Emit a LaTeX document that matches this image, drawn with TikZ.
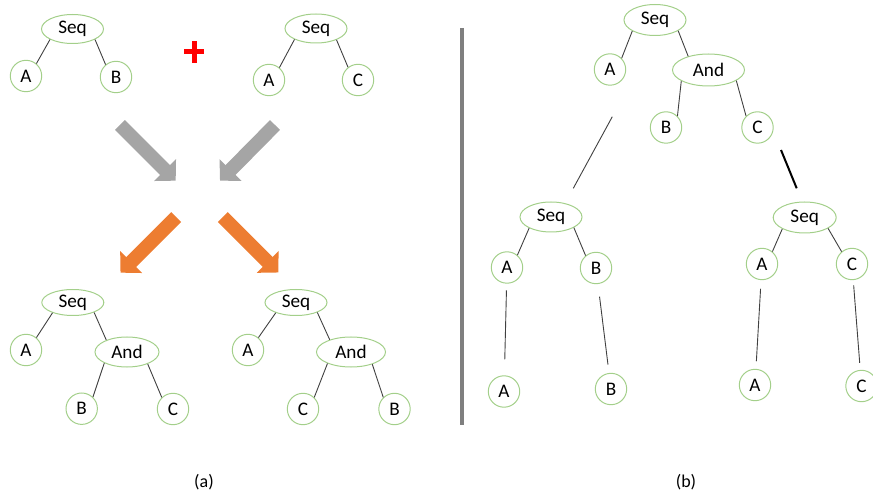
\documentclass[tikz,border=0pt]{standalone}
\usepackage{fontspec}
\setmainfont{Carlito}
\usetikzlibrary{arrows.meta,shapes.geometric}
\definecolor{tgreen}{HTML}{A3CF8A}
\definecolor{edgegray}{HTML}{404040}
\definecolor{arrowgray}{HTML}{A5A5A5}
\definecolor{arroworange}{HTML}{ED7D31}
\definecolor{divgray}{HTML}{7F7F7F}
\tikzset{
  leaf/.style={circle, draw=tgreen, line width=0.5pt, minimum size=15.7pt, inner sep=0pt, font=\fontsize{9.6}{10}\selectfont},
  op/.style={ellipse, draw=tgreen, line width=0.5pt, minimum width=31pt, minimum height=14.5pt, inner sep=0pt, font=\fontsize{9.6}{10}\selectfont},
  tedge/.style={draw=edgegray, line width=0.45pt},
  bigarrow/.style={line width=7pt, -{Triangle[width=15pt,length=7.5pt]}},
  caption/.style={font=\fontsize{9}{10}\selectfont}
}
\begin{document}
\begin{tikzpicture}[x=0.5pt, y=-0.5pt]
\useasboundingbox (0,0) rectangle (873,497);
% ---------- panel (a): inputs ----------
\node[op] (s1) at (72.5,29) {Seq};
\node[leaf] (a1) at (26,76) {A};
\node[leaf] (b1) at (116,77) {B};
\draw[tedge] (s1.205) -- (a1.50);
\draw[tedge] (s1.335) -- (b1.130);

\node[op] (s2) at (316,28.5) {Seq};
\node[leaf] (a2) at (269,80) {A};
\node[leaf] (c2) at (358,80) {C};
\draw[tedge] (s2.207) -- (a2.50);
\draw[tedge] (s2.331) -- (c2.128);

% red plus
\fill[red] (184,49.3) rectangle (204,54.3);
\fill[red] (191.5,41) rectangle (196.5,63);

% big arrows
\coordinate (g1s) at (120,125);
\coordinate (g1e) at (175.7,180.7);
\coordinate (g2s) at (275,125);
\coordinate (g2e) at (220,180.7);
\coordinate (o1s) at (176.2,217);
\coordinate (o1e) at (120.5,272.7);
\coordinate (o2s) at (222.8,217);
\coordinate (o2e) at (278.3,272.5);
\draw[bigarrow, draw=arrowgray, fill=arrowgray] (g1s) -- (g1e);
\draw[bigarrow, draw=arrowgray, fill=arrowgray] (g2s) -- (g2e);
\draw[bigarrow, draw=arroworange, fill=arroworange] (o1s) -- (o1e);
\draw[bigarrow, draw=arroworange, fill=arroworange] (o2s) -- (o2e);

% ---------- panel (a): outputs ----------
\node[op, minimum height=13pt] (s3) at (72.8,302.5) {Seq};
\node[leaf] (a3) at (26,350) {A};
\node[op, minimum width=32pt, minimum height=15pt] (n3) at (127,352) {And};
\node[leaf] (b3) at (81.7,408.7) {B};
\node[leaf] (c3) at (173,409) {C};
\draw[tedge] (s3.207) -- (a3.50);
\draw[tedge] (s3.335) -- (n3.150);
\draw[tedge] (n3.206) -- (b3.46);
\draw[tedge] (n3.330) -- (c3.134);

\node[op, minimum height=13pt] (s4) at (296,302.5) {Seq};
\node[leaf] (a4) at (248,350) {A};
\node[op, minimum width=34.5pt, minimum height=15pt] (n4) at (351,352) {And};
\node[leaf] (c4) at (303,409) {C};
\node[leaf] (b4) at (394.5,409) {B};
\draw[tedge] (s4.207) -- (a4.50);
\draw[tedge] (s4.335) -- (n4.150);
\draw[tedge] (n4.206) -- (c4.46);
\draw[tedge] (n4.330) -- (b4.134);

% divider
\coordinate (dtop) at (462,28);
\coordinate (dbot) at (462,425);
\draw[divgray, line width=2pt] (dtop) -- (dbot);

% ---------- panel (b) ----------
\node[op, minimum height=15.5pt] (s5) at (655,20) {Seq};
\node[leaf] (a5) at (610,69.5) {A};
\node[op, minimum width=36pt, minimum height=16pt] (n5) at (708.5,70) {And};
\node[leaf] (b5) at (666,127.5) {B};
\node[leaf] (c5) at (757.5,127.5) {C};
\draw[tedge] (s5.206) -- (a5.44);
\draw[tedge] (s5.335) -- (n5.146);
\draw[tedge] (n5.202) -- (b5.45);
\draw[tedge] (n5.339) -- (c5.135);

\coordinate (l1s) at (612.3,116.7);
\coordinate (l1e) at (573.3,188.3);
\coordinate (l2s) at (781,150);
\coordinate (l2e) at (796.7,188.3);
\draw[tedge] (l1s) -- (l1e);
\draw[draw=black, line width=1pt] (l2s) -- (l2e);

\node[op, minimum height=15pt] (s6) at (551,217) {Seq};
\node[leaf] (a6) at (507,267.5) {A};
\node[leaf] (b6) at (596,268) {B};
\node[leaf] (la6) at (504,391.5) {A};
\node[leaf] (lb6) at (611,389) {B};
\draw[tedge] (s6.207) -- (a6.50);
\draw[tedge] (s6.335) -- (b6.130);
\draw[tedge, shorten <=3.3pt, shorten >=8pt] (a6) -- (la6);
\draw[tedge, shorten <=6.3pt, shorten >=4.2pt] (b6) -- (lb6);

\node[op, minimum width=31.5pt, minimum height=15.5pt] (s7) at (804.7,217.5) {Seq};
\node[leaf] (a7) at (762,264) {A};
\node[leaf] (c7) at (852,264) {C};
\node[leaf] (la7) at (755,385) {A};
\node[leaf] (lc7) at (861.5,386) {C};
\draw[tedge] (s7.207) -- (a7.50);
\draw[tedge] (s7.335) -- (c7.130);
\draw[tedge, shorten <=4.3pt, shorten >=3.8pt] (a7) -- (la7);
\draw[tedge, shorten <=2.6pt, shorten >=3.5pt] (c7) -- (lc7);

% captions
\node[caption] (capa) at (204,482) {(a)};
\node[caption] (capb) at (686,482) {(b)};
\end{tikzpicture}
\end{document}
